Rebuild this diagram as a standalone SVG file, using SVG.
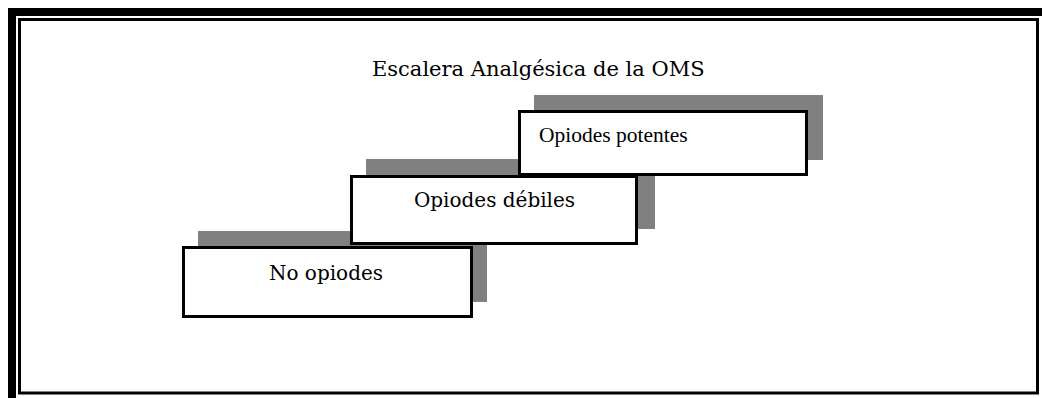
<svg xmlns="http://www.w3.org/2000/svg" width="1042" height="398" viewBox="0 0 1042 398">
<style>
.shadow{fill:#808080}
.box{fill:#fff;stroke:#000;stroke-width:3}
.lbl{font-family:"DejaVu Serif","Liberation Serif",serif;font-size:20px;fill:#000}
.lbl2{font-family:"Liberation Serif",serif;font-size:21.5px;fill:#000}
</style>
<rect width="1042" height="398" fill="#fff"/>
<g id="frame">
<rect x="8" y="8" width="1034" height="8" fill="#000"/>
<rect x="8" y="8" width="8" height="390" fill="#000"/>
<rect x="19.5" y="19.5" width="1018" height="373.5" fill="none" stroke="#000" stroke-width="3"/>
</g>
<text id="title" class="lbl" x="372" y="76" style="font-size:21px">Escalera Analgésica de la OMS</text>
<g id="step1">
<rect class="shadow" x="198" y="231" width="289" height="71"/>
<rect class="box" x="183.5" y="247.5" width="288" height="69"/>
<text class="lbl" x="326" y="280" text-anchor="middle">No opiodes</text>
</g>
<g id="step2">
<rect class="shadow" x="366" y="159" width="289" height="70"/>
<rect class="box" x="351.5" y="176.5" width="285" height="67"/>
<text class="lbl" x="494.5" y="207" text-anchor="middle">Opiodes débiles</text>
</g>
<g id="step3">
<rect class="shadow" x="534" y="95" width="289" height="65"/>
<rect class="box" x="519.5" y="111.5" width="287" height="63"/>
<text class="lbl2" x="539" y="142">Opiodes potentes</text>
</g>
<g id="connectors"/>
</svg>
